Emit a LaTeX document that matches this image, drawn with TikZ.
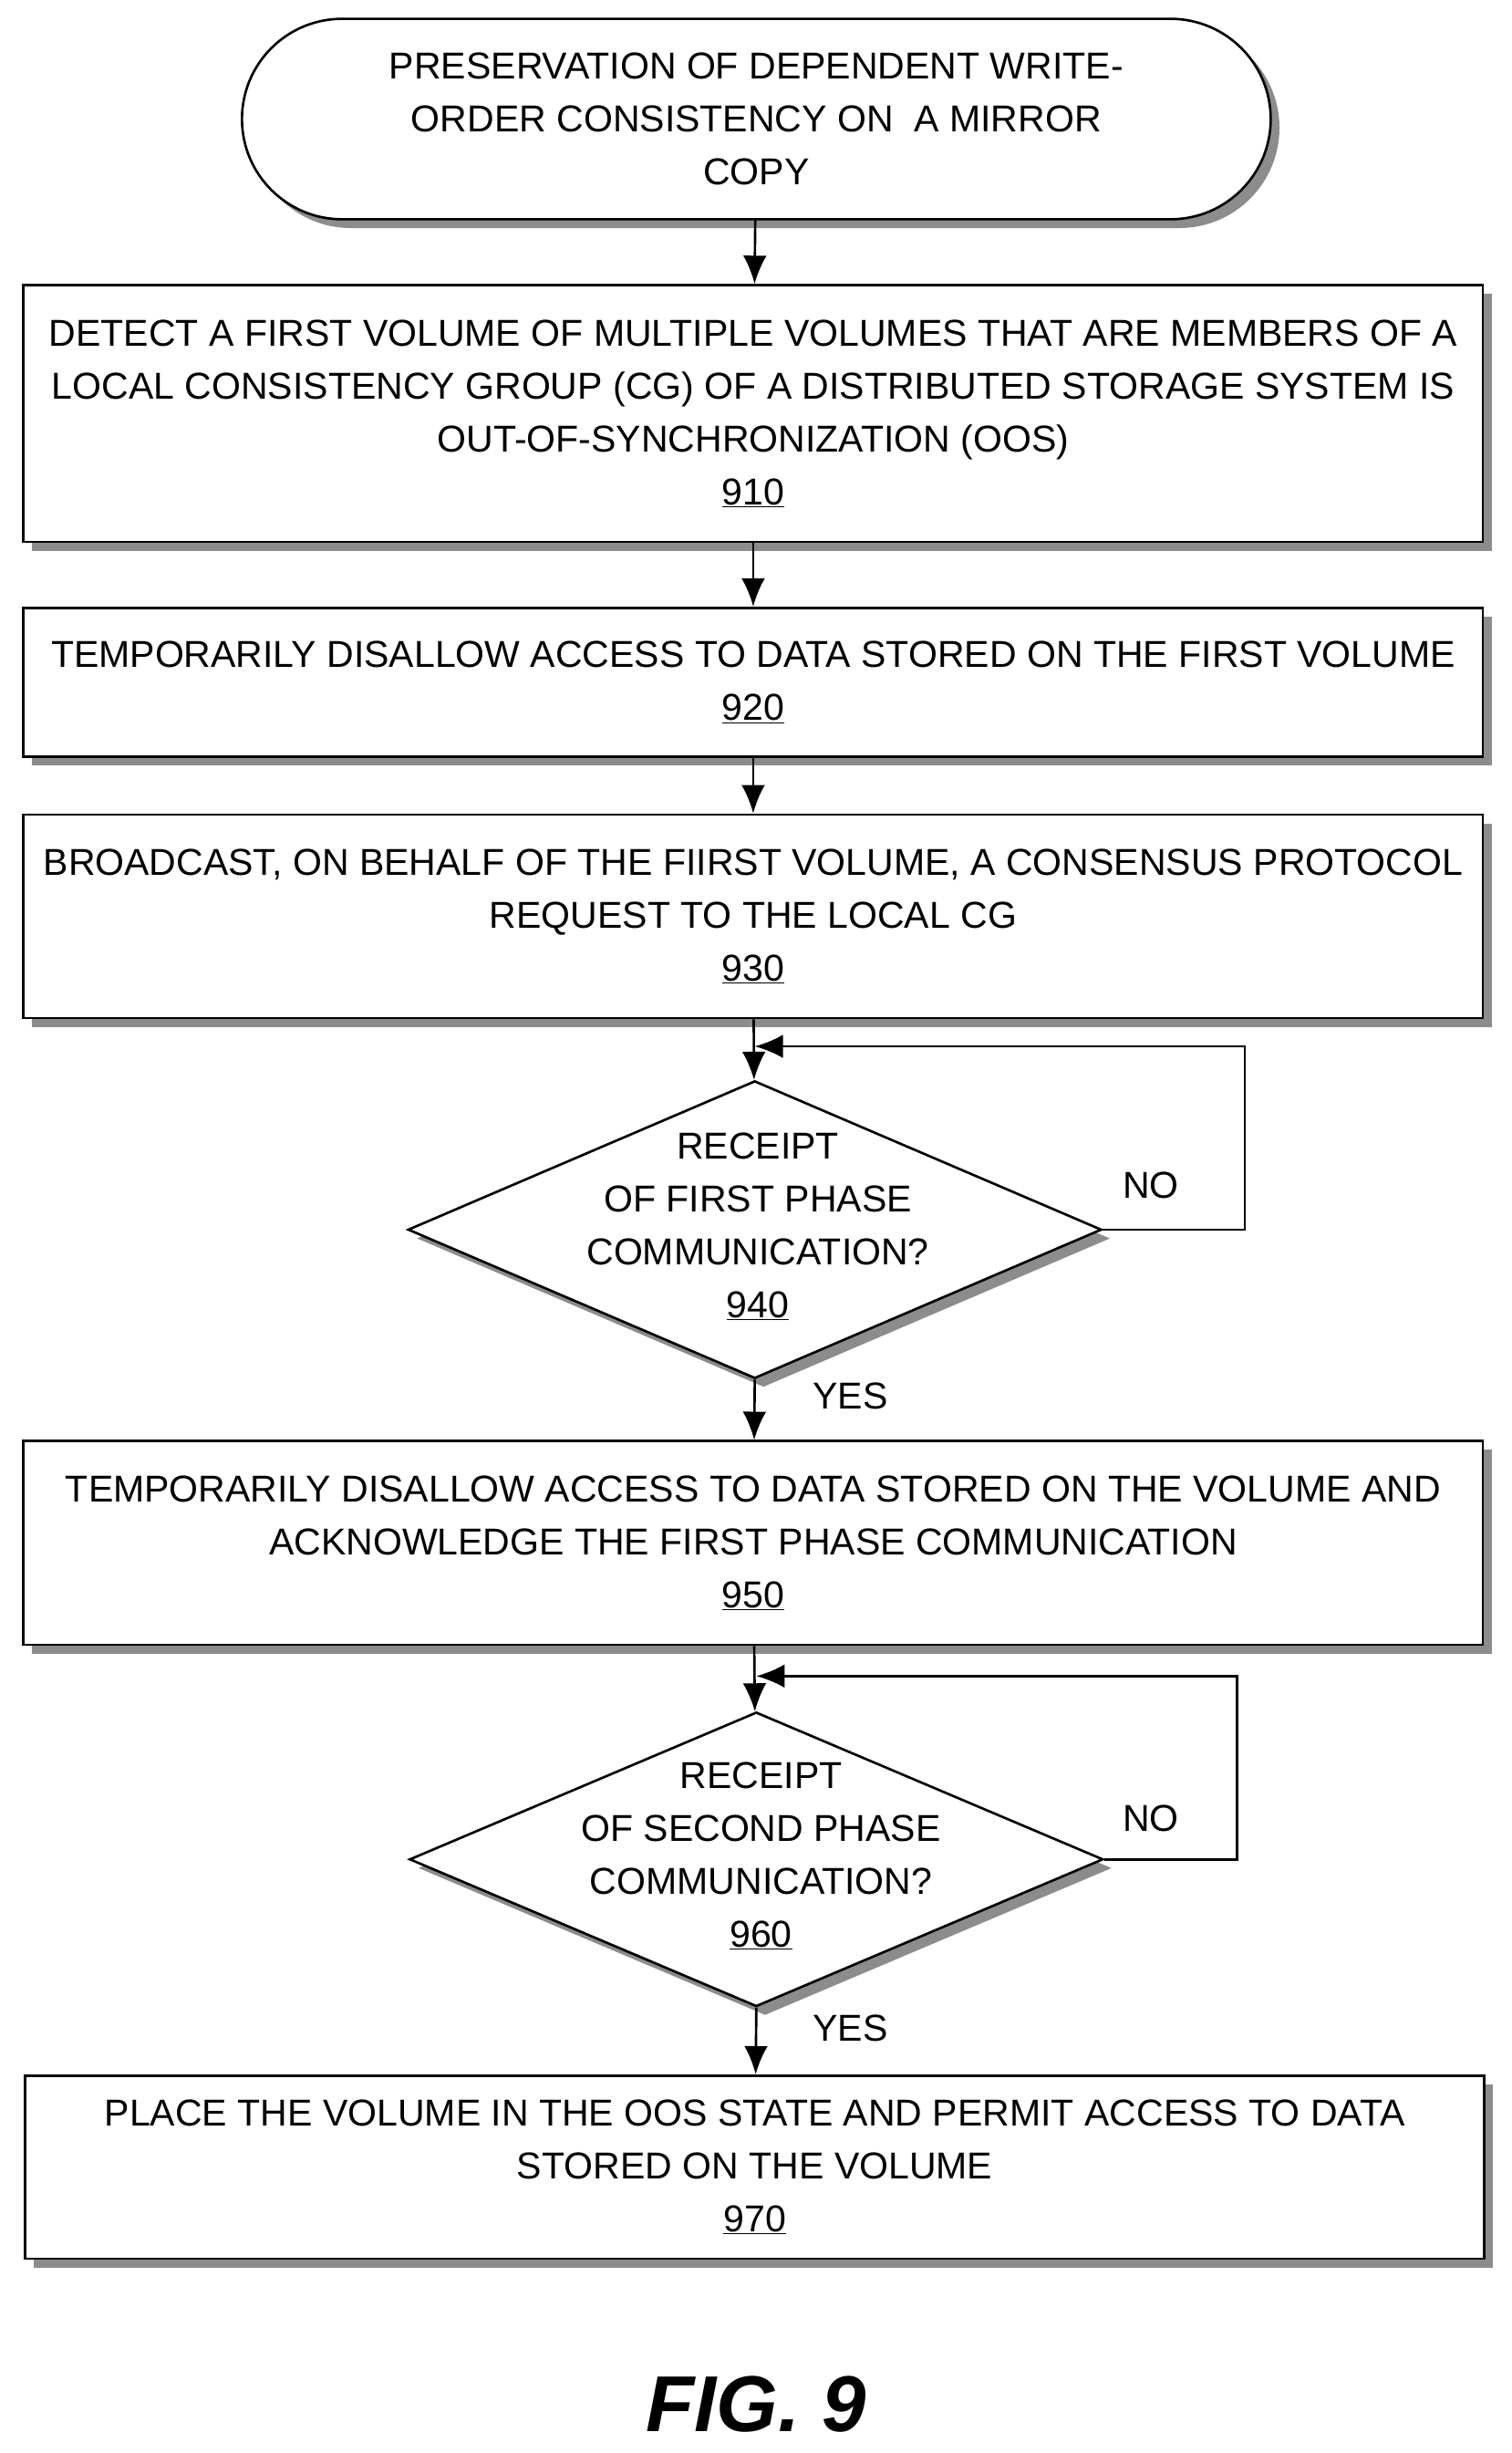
\documentclass[tikz,border=0pt]{standalone}
\usepackage{fontspec}
\setmainfont{Liberation Sans}
\usetikzlibrary{shapes.geometric,shadows,arrows.meta}
\begin{document}
\begin{tikzpicture}[x=0.05cm,y=-0.05cm,
  font=\fontsize{34}{48}\selectfont,
  sh/.style={drop shadow={shadow xshift=0.28cm,shadow yshift=-0.28cm,fill=black!45,opacity=1}},
  box/.style={draw,line width=2.2pt,fill=white,sh,rectangle,align=center,inner sep=0pt},
  dia/.style={draw,line width=2.2pt,fill=white,sh,diamond,inner sep=0pt},
  arr/.style={line width=2.2pt,-{Latex[length=0.9cm,width=0.75cm]}},
  lbl/.style={inner sep=0pt}]
\useasboundingbox (0,0) rectangle (965,1566);
\node[box,rounded corners=3.2cm,minimum width=32.85cm,minimum height=6.4cm] (start) at (483,76) {PRESERVATION OF DEPENDENT WRITE-\\ORDER CONSISTENCY ON \ A MIRROR\\COPY};
\node[box,minimum width=46.6cm,minimum height=8.2cm] (b910) at (481,264) {DETECT A FIRST VOLUME OF MULTIPLE VOLUMES THAT ARE MEMBERS OF A\\LOCAL CONSISTENCY GROUP (CG) OF A DISTRIBUTED STORAGE SYSTEM IS\\OUT-OF-SYNCHRONIZATION (OOS)\\\underline{910}};
\node[box,minimum width=46.6cm,minimum height=4.75cm] (b920) at (481,435.5) {TEMPORARILY DISALLOW ACCESS TO DATA STORED ON THE FIRST VOLUME\\\underline{920}};
\node[box,minimum width=46.6cm,minimum height=6.5cm] (b930) at (481,585) {BROADCAST, ON BEHALF OF THE FIIRST VOLUME, A CONSENSUS PROTOCOL\\REQUEST TO THE LOCAL CG\\\underline{930}};
\node[dia,minimum width=22.15cm,minimum height=9.5cm] (d940) at (482,785) {};
\node[lbl,align=center] (t940) at (484,783) {RECEIPT\\OF FIRST PHASE\\COMMUNICATION?\\\underline{940}};
\node[box,minimum width=46.6cm,minimum height=6.5cm] (b950) at (481,985) {TEMPORARILY DISALLOW ACCESS TO DATA STORED ON THE VOLUME AND\\ACKNOWLEDGE THE FIRST PHASE COMMUNICATION\\\underline{950}};
\node[dia,minimum width=22.15cm,minimum height=9.4cm] (d960) at (483,1187) {};
\node[lbl,align=center] (t960) at (486,1185) {RECEIPT\\OF SECOND PHASE\\COMMUNICATION?\\\underline{960}};
\node[box,minimum width=46.6cm,minimum height=5.85cm] (b970) at (482,1383.5) {PLACE THE VOLUME IN THE OOS STATE AND PERMIT ACCESS TO DATA\\STORED ON THE VOLUME\\\underline{970}};
\node[lbl] (no1) at (735,757) {NO};
\node[lbl] (yes1) at (543,891) {YES};
\node[lbl] (no2) at (735,1161) {NO};
\node[lbl] (yes2) at (543,1295) {YES};
\node[lbl,font=\fontsize{72}{80}\selectfont\bfseries\itshape] (fig) at (483,1535) {FIG. 9};
\coordinate (m1) at (482,668);
\coordinate (m2) at (483,1070);
\draw[arr] (start) -- (b910);
\draw[arr] (b910) -- (b920);
\draw[arr] (b920) -- (b930);
\draw[arr] (b930) -- (d940);
\draw[arr] (d940.east) -- (795,785) -- (795,668) -- (m1);
\draw[arr] (d940.south) -- (b950);
\draw[arr] (b950) -- (d960);
\draw[arr] (d960.east) -- (790,1187) -- (790,1070) -- (m2);
\draw[arr] (d960.south) -- (b970);
\end{tikzpicture}
\end{document}
